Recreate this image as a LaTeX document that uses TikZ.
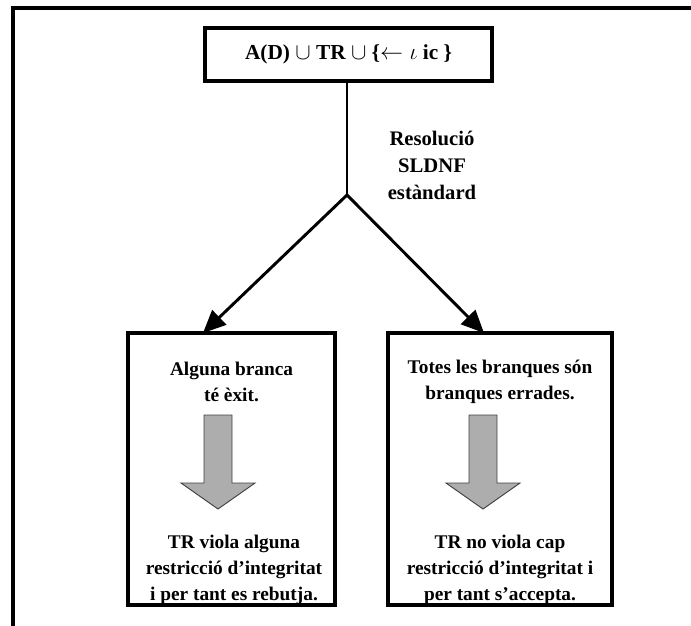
\documentclass[tikz,border=0pt]{standalone}
\usepackage{fontspec}
\setmainfont{Liberation Serif}
\usetikzlibrary{arrows.meta}
\begin{document}
\begin{tikzpicture}[x=0.75pt,y=-0.75pt,
  frame/.style={draw=black,line width=2.8pt},
  box/.style={draw=black,line width=2.6pt,inner sep=0pt},
  txt/.style={font=\bfseries\fontsize{14.5}{19.5}\selectfont,align=center,inner sep=0pt},
  link/.style={line width=2.2pt,-{Triangle[length=17pt,width=15pt]}},
  greyarrow/.style={fill=black!32,draw=black!75,line width=0.7pt}]
\useasboundingbox (0,0) rectangle (691,625);

% outer frame (open at right and bottom)
\draw[frame] (700,8) -- (13,8) -- (13,640);

% top box
\node[box,txt,font=\bfseries\fontsize{16}{19.5}\selectfont,
      minimum width=215.25pt,minimum height=39.75pt] (top) at (348.5,54.5)
  {A(D) $\cup$ TR $\cup$ \{$\leftarrow\iota$ ic \}};

% resolution label
\node[txt,font=\bfseries\fontsize{15.5}{20.25}\selectfont] (res) at (432,165)
  {Resolució\\SLDNF\\estàndard};

% result boxes
\node[box,minimum width=155.25pt,minimum height=204pt] (left) at (231.5,469) {};
\node[box,minimum width=168pt,minimum height=204pt] (right) at (500,469) {};

% stem and branches
\coordinate (fork) at (347,195);
\coordinate (ltip) at (203,333);
\coordinate (rtip) at (484,333);
\draw[line width=2.2pt] (top.south -| fork) -- (fork);
\draw[link] (fork) -- (ltip);
\draw[link] (fork) -- (rtip);

% texts inside the left box
\node[txt] (lup) at (231.5,382) {Alguna branca\\té èxit.};
\node[txt] (ldown) at (234,570) {TR viola alguna\\restricció d’integritat\\i per tant es rebutja.};

% texts inside the right box
\node[txt] (rup) at (500,382) {Totes les branques són\\branques errades.};
\node[txt] (rdown) at (500,570) {TR no viola cap\\restricció d’integritat i\\per tant s’accepta.};

% grey block arrows
\foreach \cx in {218,483}{
  \draw[greyarrow] (\cx-14,415) -- (\cx+14,415) -- (\cx+14,483) -- (\cx+37,483)
    -- (\cx,509) -- (\cx-37,483) -- (\cx-14,483) -- cycle;
}
\end{tikzpicture}
\end{document}
